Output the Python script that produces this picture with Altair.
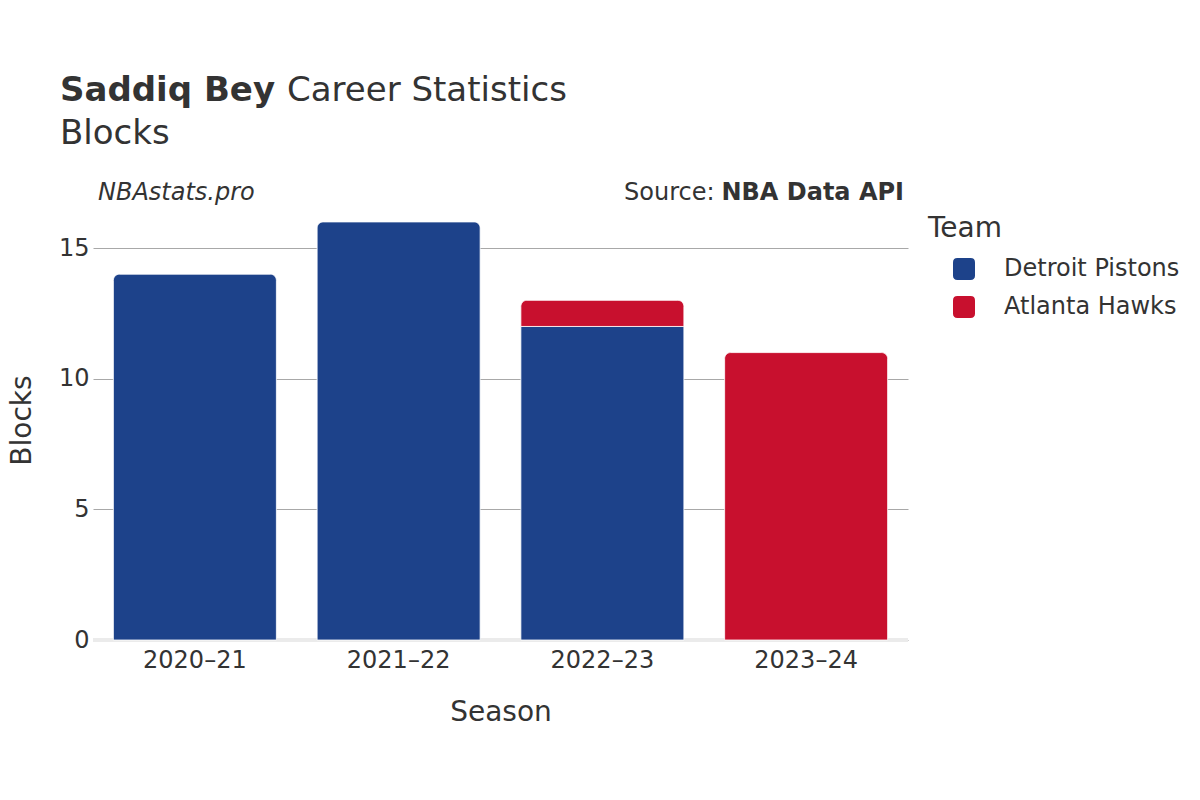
import altair as alt
import pandas as pd

# ---- data ----
seasons = ["2020–21", "2021–22", "2022–23", "2022–23", "2023–24"]
teams = ["Detroit Pistons", "Detroit Pistons", "Detroit Pistons", "Atlanta Hawks", "Atlanta Hawks"]
blocks = [14, 16, 12, 1, 11]

season_order = ["2020–21", "2021–22", "2022–23", "2023–24"]
team_order = ["Detroit Pistons", "Atlanta Hawks"]
team_colors = ["#1d428a", "#c8102e"]
y_ticks = [0, 5, 10, 15]

title_bold = "Saddiq Bey"
title_rest = "Career Statistics"
subtitle = "Blocks"
brand = "NBAstats.pro"
source_lbl = "Source:"
source_bold = "NBA Data API"

df = pd.DataFrame({"Season": seasons, "Team": teams, "Blocks": blocks})
df["end"] = df.groupby("Season")["Blocks"].cumsum()
df["start"] = df["end"] - df["Blocks"]
df["top"] = df["end"] == df.groupby("Season")["end"].transform("max")

W, H = 815, 440
OX, OY = 93, 200  # plot origin in page coords
TXT = "#333333"
FONT = "DejaVu Sans"
YDOM = [0, 16.84]

rounded = "M-0.6,-1 H0.6 Q1,-1 1,-0.6 V0.6 Q1,1 0.6,1 H-0.6 Q-1,1 -1,0.6 V-0.6 Q-1,-1 -0.6,-1 Z"

x_enc = alt.X(
    "Season:N",
    sort=season_order,
    scale=alt.Scale(domain=season_order, paddingInner=0.2, paddingOuter=0.1),
    axis=alt.Axis(
        title="Season", labelAngle=0, labelFontSize=24, labelColor=TXT,
        labelPadding=8, ticks=False, domain=False, grid=False,
        titleFontSize=28, titleColor=TXT, titleFontWeight="normal",
        titleY=72, titleBaseline="middle",
    ),
)
y_axis = alt.Axis(
    title="Blocks", values=y_ticks, labelFontSize=24, labelColor=TXT,
    labelPadding=4, ticks=False, domain=False, grid=True,
    gridColor="#a8a8a8", gridWidth=1,
    titleFontSize=28, titleColor=TXT, titleFontWeight="normal",
    titleX=22 - OX, titleY=H / 2, titleAngle=-90, titleBaseline="middle",
    titleAlign="center",
)
y_scale = alt.Scale(domain=YDOM, nice=False, zero=True)
y_enc = alt.Y("end:Q", scale=y_scale, axis=y_axis, title="Blocks")

color_enc = alt.Color(
    "Team:N",
    scale=alt.Scale(domain=team_order, range=team_colors),
    legend=alt.Legend(
        title="Team", orient="none", legendX=928 - OX, legendY=15,
        titleFontSize=28, titleColor=TXT, titleFontWeight="normal",
        titlePadding=14, labelFontSize=24, labelColor=TXT, labelLimit=400,
        symbolType=rounded, symbolSize=484, symbolStrokeWidth=0,
        symbolOffset=24, labelOffset=28, rowPadding=14,
    ),
)

zero_df = pd.DataFrame({"v": [0]})
zero = alt.Chart(zero_df).mark_rule(color="#ebebeb", strokeWidth=4).encode(
    y=alt.Y("v:Q", scale=y_scale, axis=y_axis, title="Blocks")
)

base = alt.Chart(df)
bars_low = base.transform_filter("!datum.top").mark_bar(
    stroke="white", strokeWidth=0.8
).encode(x=x_enc, y=y_enc, y2="start:Q", color=color_enc)

bars_top = base.transform_filter("datum.top").mark_bar(
    cornerRadiusTopLeft=6, cornerRadiusTopRight=6, stroke="white", strokeWidth=0.8
).encode(x=x_enc, y=y_enc, y2="start:Q", color=color_enc)


def txt(s, x, y, size, weight="normal", style="normal", align="left"):
    return alt.Chart(pd.DataFrame({"t": [s]})).mark_text(
        font=FONT, fontSize=size, fontWeight=weight, fontStyle=style,
        align=align, baseline="alphabetic", color=TXT,
    ).encode(x=alt.value(x - OX), y=alt.value(y - OY), text="t:N")


texts = [
    txt(title_bold, 60, 101, 34, weight="bold"),
    txt(title_rest, 287, 101, 34),
    txt(subtitle, 60, 144, 34),
    txt(brand, 98, 200, 24, style="italic"),
    txt(source_bold, 904, 200, 24, weight="bold", align="right"),
    txt(source_lbl, 624, 200, 24),
]

chart = alt.layer(zero, bars_low, bars_top, *texts).properties(
    width=W, height=H,
    autosize=alt.AutoSizeParams(type="none"),
    padding={"left": OX - 8, "top": OY - 8, "right": 1184 - OX - W, "bottom": 784 - OY - H},
).configure(font=FONT).configure_view(stroke=None)

chart.save("out.html", embed_options={"renderer": "svg", "actions": False})
